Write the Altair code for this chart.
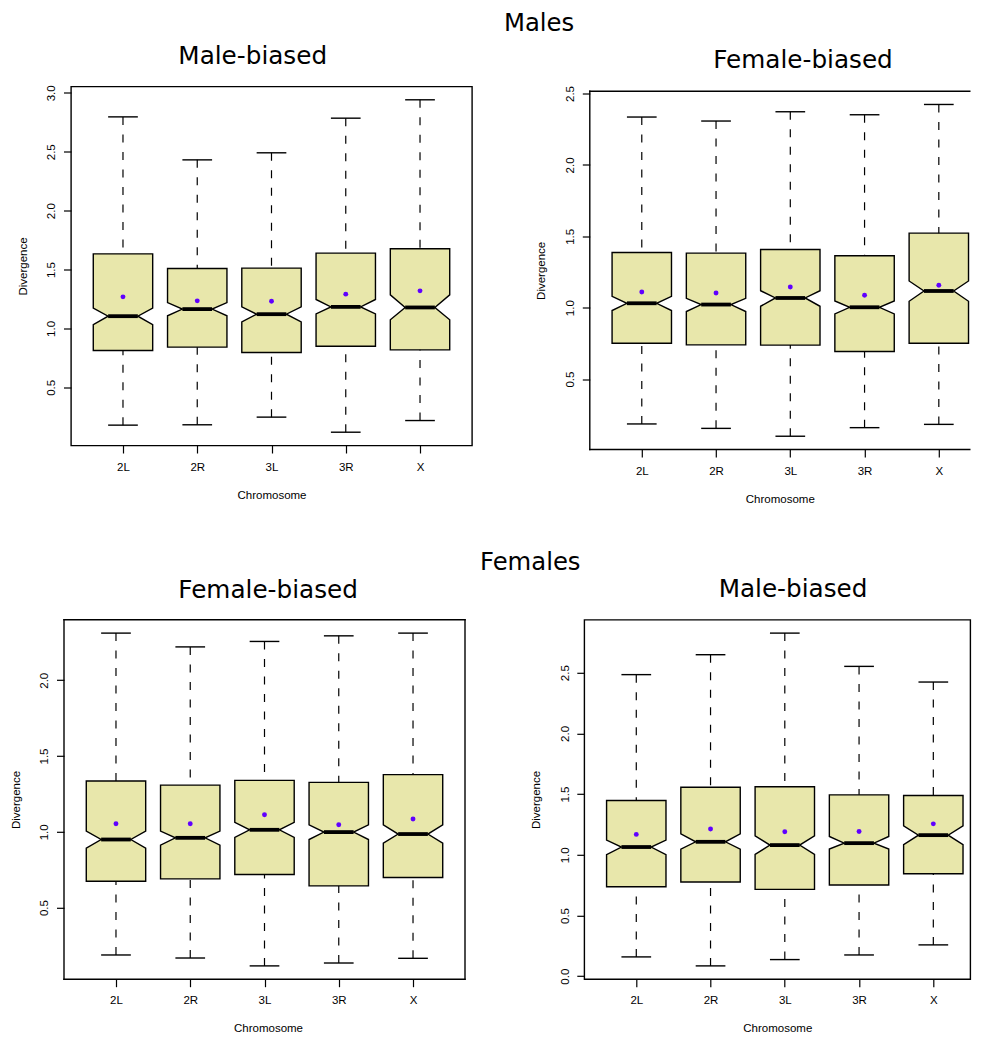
import altair as alt
import pandas as pd

chromosomes = ["2L", "2R", "3L", "3R", "X"]

# Males, Male-biased genes
mm_low = [0.179, 0.182, 0.247, 0.119, 0.218]
mm_q1 = [0.813, 0.841, 0.796, 0.849, 0.818]
mm_notch_low = [1.033, 1.107, 1.056, 1.124, 1.073]
mm_median = [1.104, 1.164, 1.121, 1.183, 1.178]
mm_notch_high = [1.172, 1.220, 1.183, 1.246, 1.285]
mm_q3 = [1.633, 1.509, 1.512, 1.639, 1.676]
mm_high = [2.796, 2.431, 2.491, 2.785, 2.941]
mm_mean = [1.268, 1.234, 1.231, 1.291, 1.319]

# Males, Female-biased genes
mf_low = [0.186, 0.155, 0.100, 0.160, 0.183]
mf_q1 = [0.751, 0.740, 0.738, 0.693, 0.751]
mf_notch_low = [0.980, 0.973, 1.010, 0.956, 1.045]
mf_median = [1.031, 1.022, 1.068, 1.003, 1.117]
mf_notch_high = [1.080, 1.066, 1.119, 1.047, 1.187]
mf_q3 = [1.387, 1.382, 1.408, 1.364, 1.522]
mf_high = [2.335, 2.307, 2.372, 2.351, 2.423]
mf_mean = [1.110, 1.103, 1.145, 1.087, 1.157]

# Females, Female-biased genes
ff_low = [0.187, 0.167, 0.115, 0.134, 0.165]
ff_q1 = [0.674, 0.689, 0.718, 0.643, 0.698]
ff_notch_low = [0.892, 0.912, 0.963, 0.949, 0.925]
ff_median = [0.949, 0.960, 1.013, 0.998, 0.985]
ff_notch_high = [1.004, 1.004, 1.062, 1.046, 1.046]
ff_q3 = [1.335, 1.308, 1.339, 1.326, 1.377]
ff_high = [2.311, 2.220, 2.256, 2.293, 2.311]
ff_mean = [1.053, 1.053, 1.112, 1.046, 1.084]

# Females, Male-biased genes
fm_low = [0.159, 0.085, 0.137, 0.175, 0.258]
fm_q1 = [0.737, 0.776, 0.715, 0.751, 0.844]
fm_notch_low = [1.001, 1.047, 1.003, 1.047, 1.083]
fm_median = [1.064, 1.107, 1.080, 1.096, 1.162]
fm_notch_high = [1.121, 1.173, 1.157, 1.151, 1.239]
fm_q3 = [1.447, 1.557, 1.560, 1.494, 1.488]
fm_high = [2.484, 2.648, 2.826, 2.552, 2.423]
fm_mean = [1.168, 1.212, 1.190, 1.192, 1.255]

y_ticks_mm = [0.5, 1.0, 1.5, 2.0, 2.5, 3.0]
y_ticks_mf = [0.5, 1.0, 1.5, 2.0, 2.5]
y_ticks_ff = [0.5, 1.0, 1.5, 2.0]
y_ticks_fm = [0.0, 0.5, 1.0, 1.5, 2.0, 2.5]

BOX_FILL = "#E8E7AB"
MEAN_COLOR = "#6000FF"
LINE_W = 1.4
AXIS_FONT = "Liberation Sans"
TITLE_FONT = "DejaVu Sans"

BOX_HALF = 0.4
NOTCH_HALF = 0.2
CAP_HALF = 0.2
X_LO, X_HI = 0.3, 5.7          # R's x limits for 5 boxes
UNIT = 401 / (X_HI - X_LO)     # pixels per category step


def build_frames(low, q1, nlo, med, nhi, q3, high, mean):
    outline = []
    stats = []
    for i, c in enumerate(chromosomes):
        p = i + 1
        pts = [(q1[i], BOX_HALF), (nlo[i], BOX_HALF), (med[i], NOTCH_HALF),
               (nhi[i], BOX_HALF), (q3[i], BOX_HALF)]
        for yv, h in pts:
            outline.append({"chrom": c, "y": yv, "xl": p - h, "xr": p + h})
        stats.append({"chrom": c, "pos": p, "low": low[i], "q1": q1[i], "med": med[i],
                      "q3": q3[i], "high": high[i], "mean": mean[i],
                      "cl": p - CAP_HALF, "cr": p + CAP_HALF,
                      "ml": p - NOTCH_HALF, "mr": p + NOTCH_HALF})
    return pd.DataFrame(outline), pd.DataFrame(stats)


def make_panel(vals, yticks, title, title_dx, title_offset, height, x_min, x_max, ext,
               frame_sides=None, extra_top=0.0, y_axis_offset=0, frame_right=X_HI,
               x_title_pad=16.5):
    low, q1, nlo, med, nhi, q3, high, mean = vals
    outline, stats = build_frames(low, q1, nlo, med, nhi, q3, high, mean)
    width = (x_max - x_min) * UNIT
    dmin = min(low + mean)
    dmax = max(high + mean)
    pad = 0.04 * (dmax - dmin)
    ylo, yhi = dmin - pad, dmax + pad
    ytop = yhi + (yhi - ylo) * extra_top / height
    total_h = height + extra_top
    yscale = alt.Scale(domain=[ylo, ytop], nice=False, zero=False)
    xscale = alt.Scale(domain=[x_min, x_max], nice=False, zero=False)

    yaxis = alt.Axis(values=yticks, format=".1f", title="Divergence", orient="left",
                     labelAngle=270, labelAlign="center", labelBaseline="alphabetic",
                     labelPadding=8.8, tickSize=7.5, tickWidth=1.2, tickColor="black",
                     labelColor="black", labelFont=AXIS_FONT, labelFontSize=11.5,
                     titleFont=AXIS_FONT, titleFontSize=11.5, titleFontWeight="normal",
                     titleColor="black", titleAngle=270, titleAlign="center",
                     titleBaseline="bottom", titleX=-43,
                     titleY=extra_top + height / 2, offset=y_axis_offset,
                     minExtent=ext, maxExtent=ext, domain=False, grid=False,
                     labelFlush=False, labelOverlap=False)
    xaxis = alt.Axis(values=[1, 2, 3, 4, 5], labelExpr=f"{chromosomes}[datum.value - 1]",
                     title="Chromosome", orient="bottom", tickSize=7.5, tickWidth=1.2,
                     tickColor="black", labelPadding=8.3, labelBaseline="top",
                     labelAlign="center", labelAngle=0, labelColor="black",
                     labelFont=AXIS_FONT, labelFontSize=11.5, titleFont=AXIS_FONT,
                     titleFontSize=11.5, titleFontWeight="normal", titleColor="black",
                     titlePadding=x_title_pad, minExtent=27, maxExtent=27,
                     domain=False, grid=False, labelFlush=False, labelOverlap=False)

    box = alt.Chart(outline).mark_area(orient="horizontal", fill=BOX_FILL, stroke="black",
                                       strokeWidth=LINE_W, fillOpacity=1).encode(
        y=alt.Y("y:Q", scale=yscale, axis=yaxis),
        x=alt.X("xl:Q", scale=xscale, axis=xaxis, stack=None),
        x2="xr:Q",
        detail="chrom:N",
    )
    base = alt.Chart(stats)
    whisk_hi = base.mark_rule(color="black", strokeWidth=1.2, strokeDash=[8, 9.5]).encode(
        x=alt.X("pos:Q", scale=xscale, axis=None), y=alt.Y("high:Q", scale=yscale, axis=None),
        y2="q3:Q")
    whisk_lo = base.mark_rule(color="black", strokeWidth=1.2, strokeDash=[8, 9.5]).encode(
        x=alt.X("pos:Q", scale=xscale, axis=None), y=alt.Y("low:Q", scale=yscale, axis=None),
        y2="q1:Q")
    cap_hi = base.mark_rule(color="black", strokeWidth=LINE_W).encode(
        x=alt.X("cl:Q", scale=xscale, axis=None), x2="cr:Q",
        y=alt.Y("high:Q", scale=yscale, axis=None))
    cap_lo = base.mark_rule(color="black", strokeWidth=LINE_W).encode(
        x=alt.X("cl:Q", scale=xscale, axis=None), x2="cr:Q",
        y=alt.Y("low:Q", scale=yscale, axis=None))
    median = base.mark_rule(color="black", strokeWidth=3.8, strokeCap="butt").encode(
        x=alt.X("ml:Q", scale=xscale, axis=None), x2="mr:Q",
        y=alt.Y("med:Q", scale=yscale, axis=None))
    means = base.mark_circle(color=MEAN_COLOR, size=24, opacity=1).encode(
        x=alt.X("pos:Q", scale=xscale, axis=None),
        y=alt.Y("mean:Q", scale=yscale, axis=None))

    layers = [box, whisk_hi, whisk_lo, cap_hi, cap_lo, median, means]
    if frame_sides:
        # plot frame drawn at the R plot limits
        lim = pd.DataFrame({"x0": [X_LO], "x1": [frame_right], "y0": [ylo], "y1": [yhi]})
        fb = alt.Chart(lim).mark_rule(color="black", strokeWidth=LINE_W, strokeCap="square")
        for side in frame_sides:
            if side in ("left", "right"):
                xf = "x0:Q" if side == "left" else "x1:Q"
                layers.append(fb.encode(x=alt.X(xf, scale=xscale, axis=None),
                                        y=alt.Y("y0:Q", scale=yscale, axis=None),
                                        y2="y1:Q"))
            else:
                yf = "y1:Q" if side == "top" else "y0:Q"
                layers.append(fb.encode(x=alt.X("x0:Q", scale=xscale, axis=None),
                                        x2="x1:Q",
                                        y=alt.Y(yf, scale=yscale, axis=None)))

    layer = alt.layer(*layers).resolve_axis(x="independent", y="independent").properties(
        width=width, height=total_h,
        title=alt.TitleParams(title, font=TITLE_FONT, fontSize=24.7, fontWeight="normal",
                              color="black", anchor="middle", frame="group",
                              baseline="top", dx=title_dx, offset=title_offset),
    )
    if not frame_sides:
        layer = layer.properties(view=alt.ViewBackground(stroke="black", strokeWidth=LINE_W))
    return layer


p2_right = X_LO + 380 / UNIT
p3_left = X_LO + 7 / UNIT
p4_right = X_LO + 386 / UNIT

p1 = make_panel((mm_low, mm_q1, mm_notch_low, mm_median, mm_notch_high, mm_q3, mm_high, mm_mean),
                y_ticks_mm, "Male-biased", -18.8, 16.6, 359, X_LO, X_HI, 61)
p2 = make_panel((mf_low, mf_q1, mf_notch_low, mf_median, mf_notch_high, mf_q3, mf_high, mf_mean),
                y_ticks_mf, "Female-biased", 23.2, 12.7, 358.3, X_LO, p2_right, 61,
                frame_sides=["left", "top", "bottom"], extra_top=4.7, frame_right=p2_right)
p3 = make_panel((ff_low, ff_q1, ff_notch_low, ff_median, ff_notch_high, ff_q3, ff_high, ff_mean),
                y_ticks_ff, "Female-biased", 0.1, 16.3, 359.4, p3_left, X_HI, 54,
                frame_sides=["left", "right", "top", "bottom"], y_axis_offset=7,
                x_title_pad=16.5)
p4 = make_panel((fm_low, fm_q1, fm_notch_low, fm_median, fm_notch_high, fm_q3, fm_high, fm_mean),
                y_ticks_fm, "Male-biased", 15.7, 18.3, 359.4, X_LO, p4_right, 54,
                x_title_pad=16.5)

row_title = dict(font=TITLE_FONT, fontSize=24.3, fontWeight="normal", color="black",
                 anchor="middle", baseline="top", frame="bounds")
row1 = alt.hconcat(p1, p2, spacing=54.8,
                   title=alt.TitleParams("Males", dx=48.5, offset=7, **row_title))
row2 = alt.hconcat(p3, p4, spacing=62.3,
                   title=alt.TitleParams("Females", dx=40, offset=1.1, **row_title))

chart = alt.concat(row1, row2, columns=1, spacing=44.3).properties(
    padding={"left": 1, "top": 3.5, "right": 0, "bottom": 0}
).configure_view(stroke="transparent")

chart.save("out.html", embed_options={"renderer": "svg", "actions": False})
